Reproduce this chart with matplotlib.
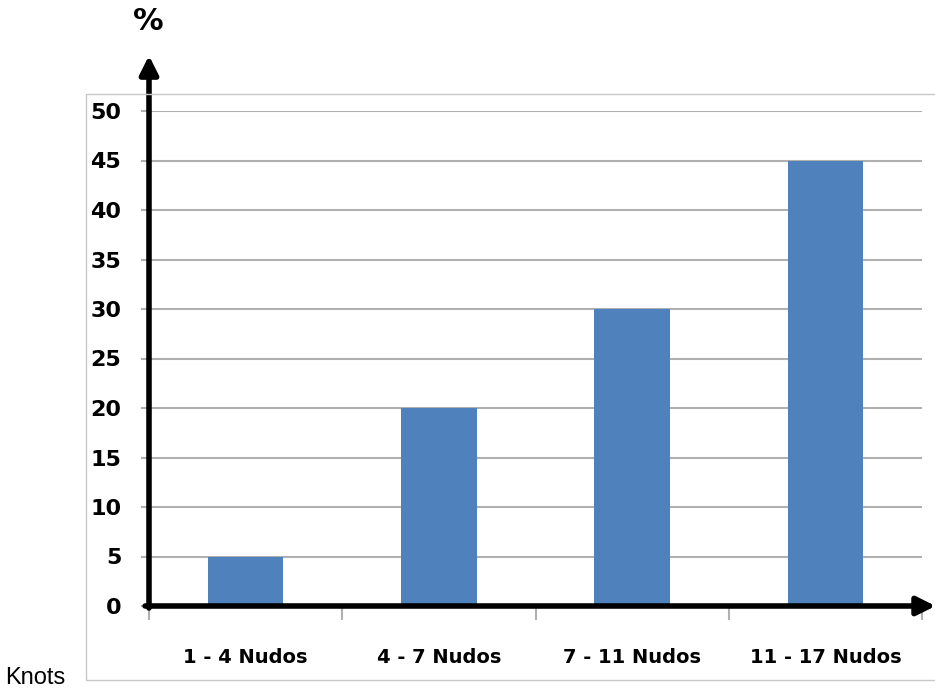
import matplotlib.pyplot as plt
from matplotlib.patches import Rectangle

categories = ['1 - 4 Nudos', '4 - 7 Nudos', '7 - 11 Nudos', '11 - 17 Nudos']
values = [5, 20, 30, 45]
yticks = [0, 5, 10, 15, 20, 25, 30, 35, 40, 45, 50]

fig = plt.figure(figsize=(9.35, 6.91), dpi=100)
W, H = 935, 691

# outer chart border
fig.patches.append(Rectangle((86 / W, 1 - 680 / H), (W + 5 - 86) / W, (680 - 94) / H,
                             transform=fig.transFigure, fill=False,
                             edgecolor='#c8c8c8', linewidth=1))

ax = fig.add_axes([149 / W, 1 - 606 / H, (922 - 149) / W, (606 - 111) / H])
x = list(range(len(categories)))
ax.bar(x, values, width=0.39, color='#4f81bd', zorder=3)
ax.set_xlim(-0.5, 3.5)
ax.set_ylim(0, 50)

for s in ax.spines.values():
    s.set_visible(False)

ax.set_yticks(yticks)
ax.set_yticklabels([str(t) for t in yticks], fontweight='bold', fontsize=16)
ax.tick_params(axis='y', length=6, color='#b0b0b0', width=1.5, pad=14)
ax.grid(axis='y', color='#b0b0b0', linewidth=1.5, zorder=0)

ax.set_xticks(x)
ax.set_xticklabels(categories, fontweight='bold', fontsize=14)
ax.tick_params(axis='x', length=0, pad=30)
ax.set_xticks([-0.5, 0.5, 1.5, 2.5, 3.5], minor=True)
ax.tick_params(axis='x', which='minor', length=10, color='#b0b0b0', width=1.5,
               direction='out')

# black axes with arrows
arrow = dict(arrowstyle='-|>,head_width=0.55,head_length=1.1',
             color='black', lw=4, shrinkA=0, shrinkB=0)
ax.annotate('', xy=(3.57, 0), xytext=(-0.52, 0), xycoords='data',
            arrowprops=arrow, annotation_clip=False, zorder=5)
ax.annotate('', xy=(-0.5, 55.6), xytext=(-0.5, -0.2), xycoords='data',
            arrowprops=arrow, annotation_clip=False, zorder=5)

fig.text(148 / W, 1 - 22 / H, '%', fontsize=22, fontweight='bold',
         ha='center', va='center')
fig.text(5 / W, 1 - 678 / H, 'Knots', fontsize=17, family='Liberation Sans',
         ha='left', va='center')

fig.savefig('out.png', dpi=100)
